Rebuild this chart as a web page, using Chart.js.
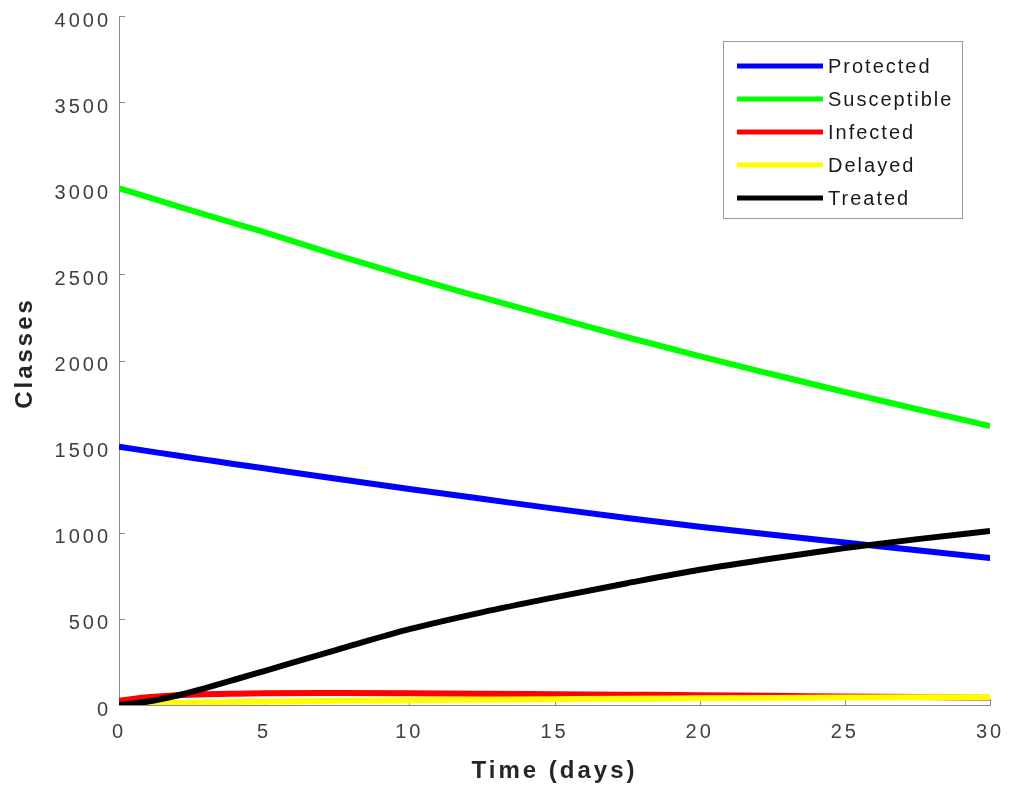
<!DOCTYPE html>
<html>
<head>
<meta charset="utf-8">
<script src="https://cdn.jsdelivr.net/npm/chart.js@4.4.0/dist/chart.umd.min.js"></script>
<style>
  html, body { margin: 0; padding: 0; background: #fff; }
</style>
</head>
<body>
<canvas id="myChart" width="1013" height="792"></canvas>
<script>
// time points (days)
const days = [0, 1, 2, 3, 4, 5, 7.5, 10, 12.5, 15, 17.5, 20, 22.5, 25, 27.5, 30];

// values
const protectedVals   = [1500, 1474, 1448, 1423, 1398, 1374, 1313, 1254, 1197, 1140, 1086, 1035, 988, 943, 898, 853];
const susceptibleVals = [3000, 2948, 2896, 2845, 2795, 2745, 2612, 2485, 2366, 2250, 2135, 2025, 1920, 1817, 1717, 1620];
const infectedVals    = [25, 45, 57, 63, 66, 68, 69, 68, 66, 63, 60, 57, 53, 50, 46, 43];
const delayedVals     = [0, 6, 11, 14, 17, 19, 24, 28, 31, 34, 37, 39, 41, 43, 45, 46];
const treatedVals     = [0, 20, 55, 100, 148, 197, 320, 440, 538, 625, 707, 785, 851, 911, 963, 1010];

const yTicks = [0, 500, 1000, 1500, 2000, 2500, 3000, 3500, 4000];
const xTicks = [0, 5, 10, 15, 20, 25, 30];

const axisGray = "#8c8c8c";
const labelGray = "#404040";
const fontFam = "'Liberation Sans', Arial, sans-serif";

function series(label, color, vals, order) {
  return {
    label: label,
    data: days.map((d, i) => ({ x: d, y: vals[i] })),
    borderColor: color,
    backgroundColor: color,
    borderWidth: 6,
    pointRadius: 0,
    cubicInterpolationMode: "monotone",
    fill: false,
    order: order
  };
}

// matlab text is wider than plain arial, widen it a bit
const wideText = {
  id: "wideText",
  beforeDraw(chart) {
    chart.ctx.letterSpacing = "3px";
  }
};

// small tick marks pointing into the plot
const insideTicks = {
  id: "insideTicks",
  beforeDatasetsDraw(chart) {
    const { ctx, chartArea, scales } = chart;
    ctx.save();
    ctx.strokeStyle = axisGray;
    ctx.lineWidth = 1;
    ctx.beginPath();
    yTicks.forEach(v => {
      const y = Math.round(scales.y.getPixelForValue(v)) + 0.5;
      ctx.moveTo(chartArea.left, y);
      ctx.lineTo(chartArea.left + 6, y);
    });
    xTicks.forEach(v => {
      const x = Math.round(scales.x.getPixelForValue(v)) + 0.5;
      ctx.moveTo(x, chartArea.bottom);
      ctx.lineTo(x, chartArea.bottom - 6);
    });
    ctx.stroke();
    ctx.restore();
  }
};

// boxed legend inside the axes, top right
const boxLegend = {
  id: "boxLegend",
  afterDraw(chart) {
    const ctx = chart.ctx;
    const boxX = 723.5, boxY = 41.5, boxW = 239, boxH = 177;
    ctx.save();
    ctx.letterSpacing = "2px";
    ctx.fillStyle = "#fff";
    ctx.fillRect(boxX, boxY, boxW, boxH);
    ctx.strokeStyle = "#999";
    ctx.lineWidth = 1;
    ctx.strokeRect(boxX, boxY, boxW, boxH);
    ctx.font = "20px " + fontFam;
    ctx.textBaseline = "middle";
    ctx.fillStyle = "#1a1a1a";
    chart.data.datasets.forEach((ds, i) => {
      const y = 66 + i * 33;
      ctx.strokeStyle = ds.borderColor;
      ctx.lineWidth = 5;
      ctx.beginPath();
      ctx.moveTo(737, y);
      ctx.lineTo(823, y);
      ctx.stroke();
      ctx.fillText(ds.label, 828, y + 1);
    });
    ctx.restore();
  }
};

let ctx = document.getElementById("myChart").getContext("2d");
let chart = new Chart(ctx, {
  type: "line",
  data: {
    datasets: [
      series("Protected", "#0000ff", protectedVals, 4),
      series("Susceptible", "#00ff00", susceptibleVals, 3),
      series("Infected", "#ff0000", infectedVals, 2),
      series("Delayed", "#ffff00", delayedVals, 1),
      series("Treated", "#000000", treatedVals, 0)
    ]
  },
  options: {
    responsive: false,
    animation: false,
    devicePixelRatio: 1,
    layout: { padding: { left: 0, top: 16, right: 23, bottom: 0 } },
    plugins: {
      legend: { display: false },
      tooltip: { enabled: false }
    },
    scales: {
      x: {
        type: "linear",
        min: 0,
        max: 30,
        afterFit: s => { s.height = 87; s.paddingLeft = 0; s.paddingRight = 0; },
        afterBuildTicks: s => { s.ticks = xTicks.map(v => ({ value: v })); },
        grid: { display: false, drawTicks: false },
        border: { display: true, color: axisGray, width: 1 },
        ticks: {
          color: labelGray,
          font: { family: fontFam, size: 20 },
          padding: 15,
          maxRotation: 0,
          callback: v => String(v)
        },
        title: {
          display: true,
          text: "Time (days)",
          color: "#262626",
          font: { family: fontFam, size: 24, weight: "bold" },
          padding: { top: 0, bottom: 6 }
        }
      },
      y: {
        min: 0,
        max: 4000,
        afterFit: s => { s.width = 119; s.paddingTop = 0; s.paddingBottom = 0; },
        afterBuildTicks: s => { s.ticks = yTicks.map(v => ({ value: v })); },
        grid: { display: false, drawTicks: false },
        border: { display: true, color: axisGray, width: 1 },
        ticks: {
          color: labelGray,
          font: { family: fontFam, size: 20 },
          padding: 8,
          labelOffset: 5,
          callback: v => String(v)
        },
        title: {
          display: true,
          text: "\u2002Classes",
          color: "#262626",
          font: { family: fontFam, size: 24, weight: "bold" },
          padding: { top: 11, bottom: 0 }
        }
      }
    }
  },
  plugins: [wideText, insideTicks, boxLegend]
});
</script>
</body>
</html>
